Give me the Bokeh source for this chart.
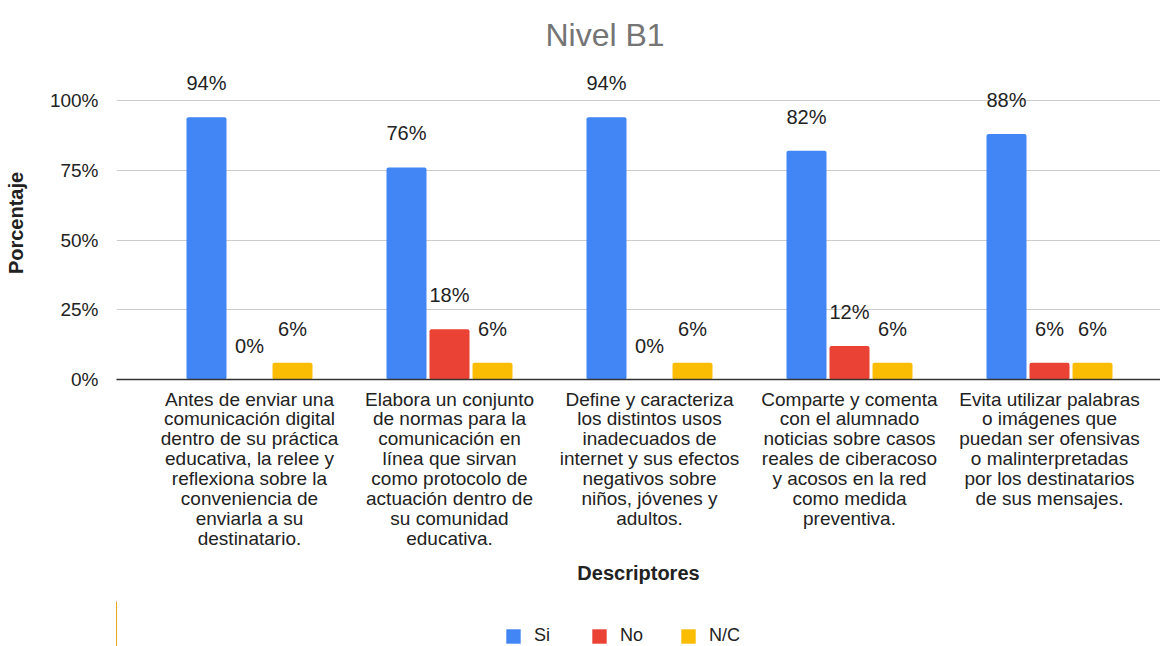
from bokeh.plotting import figure
from bokeh.models import (ColumnDataSource, Range1d, FixedTicker, Legend, LegendItem,
                          LabelSet)
from bokeh.layouts import column
from bokeh.core.properties import value
from bokeh.transform import dodge
from bokeh.embed import file_html
from bokeh.resources import INLINE

categories = [
    "Antes de enviar una\ncomunicación digital\ndentro de su práctica\neducativa, la relee y\nreflexiona sobre la\nconveniencia de\nenviarla a su\ndestinatario.",
    "Elabora un conjunto\nde normas para la\ncomunicación en\nlínea que sirvan\ncomo protocolo de\nactuación dentro de\nsu comunidad\neducativa.",
    "Define y caracteriza\nlos distintos usos\ninadecuados de\ninternet y sus efectos\nnegativos sobre\nniños, jóvenes y\nadultos.",
    "Comparte y comenta\ncon el alumnado\nnoticias sobre casos\nreales de ciberacoso\ny acosos en la red\ncomo medida\npreventiva.",
    "Evita utilizar palabras\no imágenes que\npuedan ser ofensivas\no malinterpretadas\npor los destinatarios\nde sus mensajes.",
]
series_names = ["Si", "No", "N/C"]
si = [94, 76, 94, 82, 88]
no = [0, 18, 0, 12, 6]
nc = [6, 6, 6, 6, 6]
y_ticks = [0, 25, 50, 75, 100]
y_tick_labels = ["0%", "25%", "50%", "75%", "100%"]

colors = ["#4285F4", "#EA4335", "#FBBC04"]
FONT = "Liberation Sans"

idx = list(range(len(categories)))
source = ColumnDataSource(dict(
    x=idx, si=si, no=no, nc=nc,
    si_l=[f"{v}%" for v in si],
    no_l=[f"{v}%" for v in no],
    nc_l=[f"{v}%" for v in nc],
))

p = figure(frame_width=1044, frame_height=313, output_backend="svg", toolbar_location=None,
           x_range=Range1d(-0.665, 4.555), y_range=Range1d(0, 112.2),
           min_border_left=116, min_border_right=0, min_border_top=66,
           min_border_bottom=222)

p.title.text = "Nivel B1"
p.title.align = "left"
p.title.offset = 429
p.title.text_font = FONT
p.title.text_font_size = "32px"
p.title.text_font_style = "normal"
p.title.text_color = "#757575"
p.title.standoff = 27

offsets = [-0.215, 0.0, 0.215]
fields = ["si", "no", "nc"]
for f, off, c in zip(fields, offsets, colors):
    p.vbar(x=dodge("x", off, range=p.x_range), top=f, width=0.2, source=source,
           fill_color=c, line_color=None, border_radius=2)
    labels = LabelSet(x=dodge("x", off, range=p.x_range), y=f, text=f + "_l",
                      source=source, text_align="center", text_baseline="middle",
                      y_offset=34, text_font_size="20px", text_color="#222222",
                      text_font=value(FONT))
    p.add_layout(labels)

p.xgrid.grid_line_color = None
p.ygrid.grid_line_color = "#cccccc"
p.ygrid.grid_line_width = 1
p.outline_line_color = None

p.yaxis.ticker = FixedTicker(ticks=y_ticks)
p.yaxis.major_label_overrides = {t: l for t, l in zip(y_ticks, y_tick_labels)}
p.yaxis.axis_line_color = None
p.yaxis.major_tick_line_color = None
p.yaxis.minor_tick_line_color = None
p.yaxis.major_label_text_font = FONT
p.yaxis.major_label_text_font_size = "19px"
p.yaxis.major_label_text_color = "#222222"
p.yaxis.major_label_standoff = 12
p.yaxis.axis_label = "Porcentaje"
p.yaxis.axis_label_text_font = FONT
p.yaxis.axis_label_text_font_style = "bold"
p.yaxis.axis_label_text_font_size = "20px"
p.yaxis.axis_label_text_color = "#222222"
p.yaxis.axis_label_standoff = 20

p.xaxis.ticker = FixedTicker(ticks=idx)
p.xaxis.major_label_overrides = {i: c for i, c in zip(idx, categories)}
p.xaxis.axis_line_color = "#333333"
p.xaxis.axis_line_width = 1.5
p.xaxis.major_tick_line_color = None
p.xaxis.minor_tick_line_color = None
p.xaxis.major_tick_out = 0
p.xaxis.major_label_text_font = FONT
p.xaxis.major_label_text_font_size = "19px"
p.xaxis.major_label_text_line_height = 0.95
p.xaxis.major_label_text_color = "#222222"
p.xaxis.major_label_text_align = "center"
p.xaxis.major_label_standoff = 9
p.xaxis.axis_label = "Descriptores"
p.xaxis.axis_label_text_font = FONT
p.xaxis.axis_label_text_font_style = "bold"
p.xaxis.axis_label_text_font_size = "20px"
p.xaxis.axis_label_text_color = "#222222"
p.xaxis.axis_label_standoff = 10

# legend strip below the chart (its bars sit outside its visible range)
lf = figure(width=1160, height=46, output_backend="svg", toolbar_location=None,
            x_range=Range1d(100, 101), y_range=Range1d(0, 1),
            x_axis_location=None, y_axis_location=None,
            min_border_left=0, min_border_right=0, min_border_top=0, min_border_bottom=0)
lf.xgrid.grid_line_color = None
lf.ygrid.grid_line_color = None
lf.outline_line_color = None
legend_renderers = [lf.vbar(x="x", top=f, width=0.2, source=source,
                            fill_color=c, line_color=None)
                    for f, c in zip(fields, colors)]
legend = Legend(items=[LegendItem(label=n, renderers=[r])
                       for n, r in zip(series_names, legend_renderers)],
                orientation="horizontal", location=(388, 1),
                label_text_font=FONT, label_text_font_size="18px",
                label_text_color="#222222", glyph_width=18, glyph_height=18,
                label_standoff=12, spacing=36, border_line_color=None,
                background_fill_alpha=0, margin=0, padding=0)
lf.add_layout(legend, "center")

layout = column(p, lf, spacing=0)
open("out.html", "w").write(file_html(layout, INLINE))
